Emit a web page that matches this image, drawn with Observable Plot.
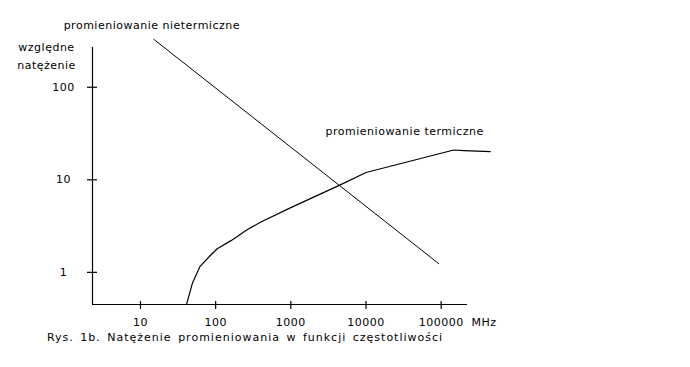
<!DOCTYPE html>
<html>
<head>
<meta charset="utf-8">
<script src="https://cdn.jsdelivr.net/npm/d3@7"></script>
<script src="https://cdn.jsdelivr.net/npm/@observablehq/plot@0.6"></script>
<style>
  html, body { margin: 0; padding: 0; background: #fff; }
  #chart svg { display: block; }
  #chart svg text { letter-spacing: 0.5px; }
  #caption { font-family: "DejaVu Sans", sans-serif; font-size: 11px; line-height: 16px; letter-spacing: 1px; word-spacing: 2px; margin-left: 47px; color: #000; white-space: pre; }
</style>
</head>
<body>
<div id="chart"></div>
<div id="caption">Rys. 1b. Natężenie promieniowania w funkcji częstotliwości</div>
<script>
// Thermal radiation curve (frequency in MHz, relative intensity)
const thermalFreq = [41, 49, 62, 85, 105, 160, 265, 400, 1000, 4400, 10000, 147000, 200000, 450000];
const thermalIntensity = [0.45, 0.76, 1.16, 1.52, 1.8, 2.2, 2.9, 3.5, 5.0, 8.7, 12, 21, 20.7, 20.2];

// Non-thermal radiation (straight line in log-log)
const nonThermalFreq = [15, 93000];
const nonThermalIntensity = [330, 1.24];

// Axes
const xDomain = [2.3, 224000];
const yDomain = [0.449, 269];
const xTicks = [10, 100, 1000, 10000, 100000];
const xTickLabels = ["10", "100", "1000", "10000", "100000"];
const yTicks = [1, 10, 100];
const yTickLabels = ["1", "10", "100"];

// Annotations
const annotText = ["promieniowanie nietermiczne", "promieniowanie termiczne"];
const annotFreq = [0.95, 2900];
const annotIntensity = [466, 33.5];

const thermal = thermalFreq.map((f, i) => ({f, v: thermalIntensity[i]}));
const nonThermal = nonThermalFreq.map((f, i) => ({f, v: nonThermalIntensity[i]}));
const xTickData = xTicks.map((t, i) => ({t, label: xTickLabels[i]}));
const yTickData = yTicks.map((t, i) => ({t, label: yTickLabels[i]}));
const annots = annotText.map((text, i) => ({text, f: annotFreq[i], v: annotIntensity[i]}));

const W = 690, H = 330, mL = 92, mR = 223, mT = 47, mB = 26;
const frameW = W - mL - mR, frameH = H - mT - mB;

const chart = Plot.plot({
  width: W,
  height: H,
  marginLeft: mL,
  marginRight: mR,
  marginTop: mT,
  marginBottom: mB,
  style: {fontFamily: "DejaVu Sans, sans-serif", fontSize: "11px", color: "#000", background: "#fff", overflow: "visible"},
  x: {type: "log", domain: xDomain, axis: null},
  y: {type: "log", domain: yDomain, axis: null},
  marks: [
    Plot.ruleX([xDomain[0]], {stroke: "#000", strokeWidth: 1.2}),
    Plot.ruleY([yDomain[0]], {stroke: "#000", strokeWidth: 1.2}),
    Plot.tickX(xTickData, {x: "t", insetTop: frameH - 3, insetBottom: -5, stroke: "#000", strokeWidth: 1.2}),
    Plot.tickY(yTickData, {y: "t", insetLeft: -5, insetRight: frameW - 5, stroke: "#000", strokeWidth: 1.2}),
    Plot.text(xTickData, {x: "t", text: "label", frameAnchor: "bottom", dy: 18, lineAnchor: "middle", fill: "#000"}),
    Plot.text(yTickData, {y: "t", text: "label", frameAnchor: "left", dx: -29, textAnchor: "middle", fill: "#000"}),
    Plot.text(["MHz"], {frameAnchor: "bottom-right", dx: 4, dy: 18, textAnchor: "start", lineAnchor: "middle", fill: "#000"}),
    Plot.text(["względne\nnatężenie"], {frameAnchor: "top-left", dx: -46, dy: 7, textAnchor: "middle", lineAnchor: "middle", lineHeight: 1.64, fill: "#000"}),
    Plot.line(nonThermal, {x: "f", y: "v", stroke: "#000", strokeWidth: 1}),
    Plot.line(thermal, {x: "f", y: "v", stroke: "#000", strokeWidth: 1.2}),
    Plot.text(annots, {x: "f", y: "v", text: "text", textAnchor: "start", lineAnchor: "middle", fill: "#000"})
  ]
});
document.getElementById("chart").appendChild(chart);
</script>
</body>
</html>
